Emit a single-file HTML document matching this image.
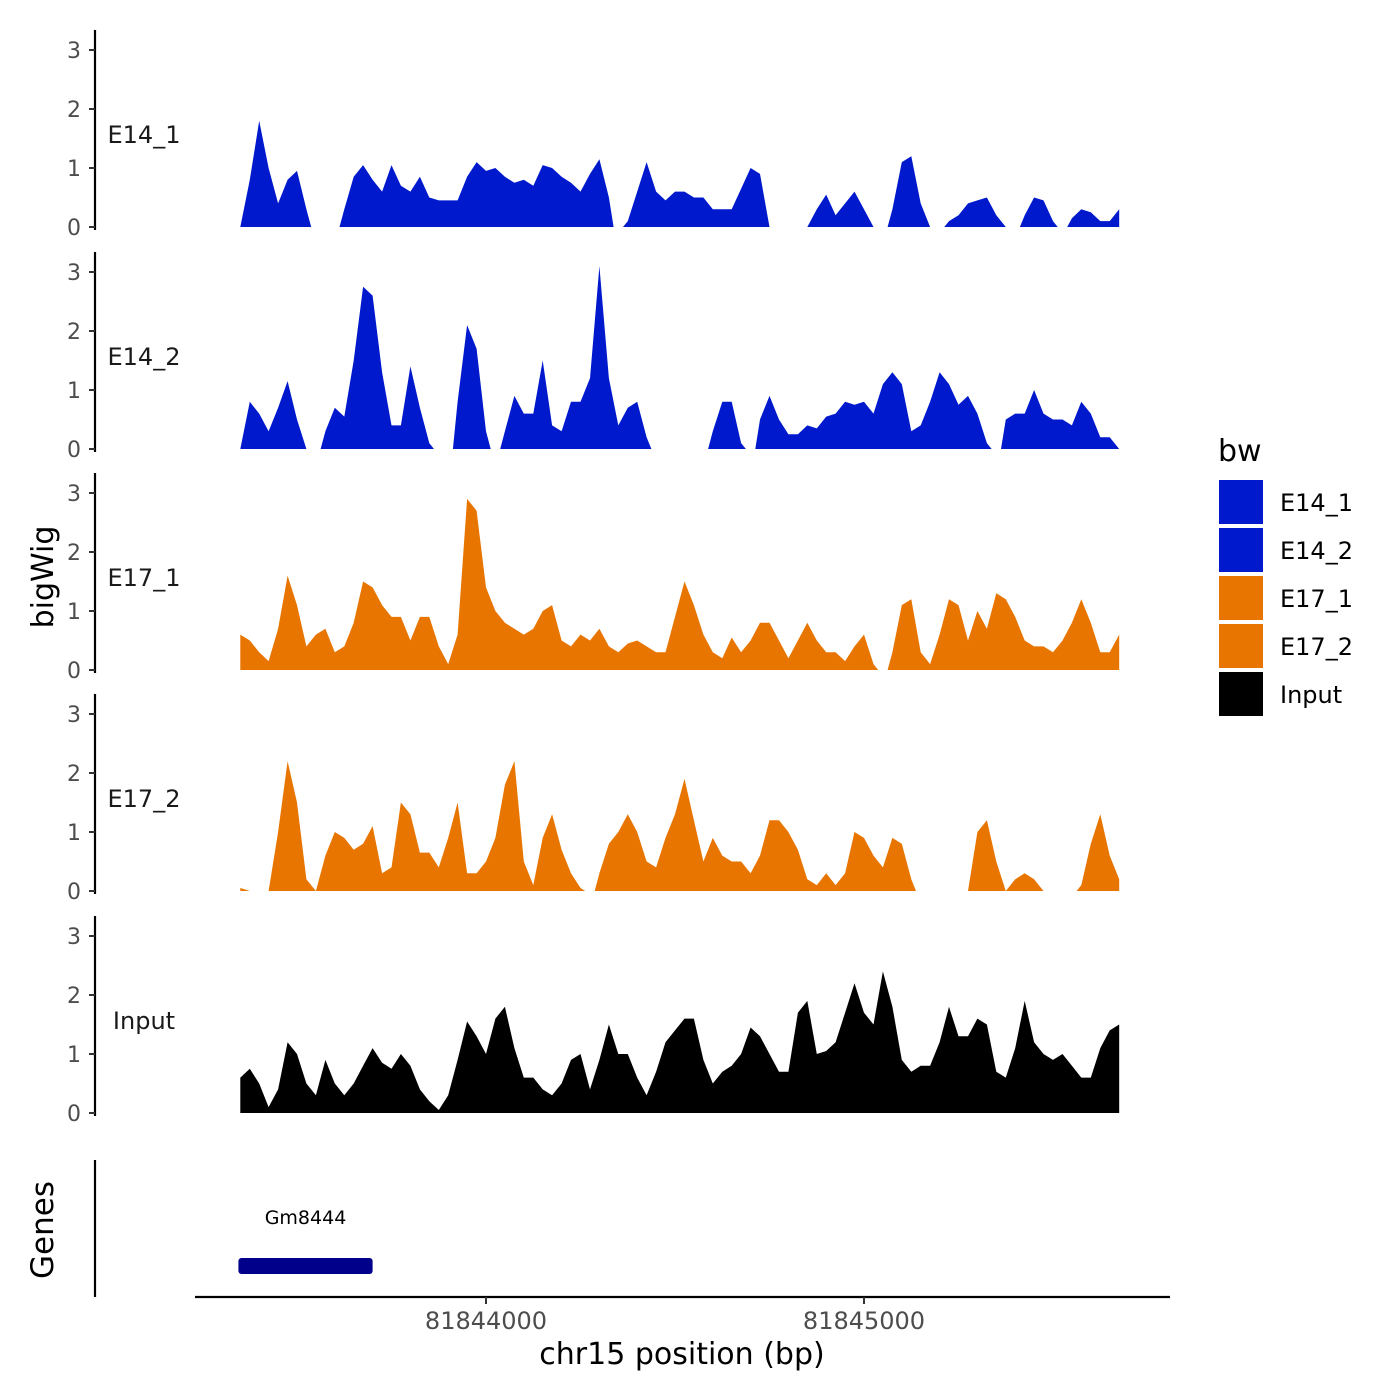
<!DOCTYPE html>
<html><head><meta charset="utf-8"><style>
html,body{margin:0;padding:0;background:#fff;}
svg{display:block;font-family:"DejaVu Sans","Liberation Sans",sans-serif;}
</style></head><body>
<svg id="chart" width="1400" height="1400" viewBox="0 0 1400 1400" xmlns="http://www.w3.org/2000/svg"></svg>
<script>
// ---- data ----
const binStart = 81843350;
const binSize = 25;
const trackNames = ["E14_1","E14_2","E17_1","E17_2","Input"];
const trackColors = ["#0019CD","#0019CD","#E87500","#E87500","#000000"];
const e14_1 = [0,0.8,1.8,1.0,0.4,0.8,0.95,0.3,null,null,
 null,0.3,0.85,1.05,0.8,0.6,1.05,0.7,0.6,0.85,
 0.5,0.45,0.45,0.45,0.85,1.1,0.95,1.0,0.85,0.75,
 0.8,0.7,1.05,1.0,0.85,0.75,0.6,0.9,1.15,0.5,
 null,0.1,0.6,1.1,0.6,0.45,0.6,0.6,0.5,0.5,
 0.3,0.3,0.3,0.65,1.0,0.9,0,null,null,null,
 0,0.3,0.55,0.2,0.4,0.6,0.3,0,null,0.3,
 1.1,1.2,0.4,0,null,0.1,0.2,0.4,0.45,0.5,
 0.2,0,null,0.2,0.5,0.45,0.1,null,0.15,0.3,
 0.25,0.1,0.1,0.3];
const e14_2 = [0,0.8,0.6,0.3,0.7,1.15,0.5,0,null,0.3,
 0.7,0.55,1.5,2.75,2.6,1.3,0.4,0.4,1.4,0.7,
 0.1,null,null,0.8,2.1,1.7,0.3,null,0.3,0.9,
 0.6,0.6,1.5,0.4,0.3,0.8,0.8,1.2,3.1,1.2,
 0.4,0.7,0.8,0.2,null,null,null,null,null,null,
 0.3,0.8,0.8,0.1,null,0.5,0.9,0.5,0.25,0.25,
 0.4,0.35,0.55,0.6,0.8,0.75,0.8,0.6,1.1,1.3,
 1.1,0.3,0.4,0.8,1.3,1.1,0.75,0.9,0.6,0.1,
 null,0.5,0.6,0.6,1.0,0.6,0.5,0.5,0.4,0.8,
 0.6,0.2,0.2,0];
const e17_1 = [0.6,0.5,0.3,0.15,0.7,1.6,1.1,0.4,0.6,0.7,
 0.3,0.4,0.8,1.5,1.4,1.1,0.9,0.9,0.5,0.9,
 0.9,0.4,0.1,0.6,2.9,2.7,1.4,1.0,0.8,0.7,
 0.6,0.7,1.0,1.1,0.5,0.4,0.6,0.5,0.7,0.4,
 0.3,0.45,0.5,0.4,0.3,0.3,0.9,1.5,1.1,0.6,
 0.3,0.2,0.55,0.3,0.5,0.8,0.8,0.5,0.2,0.5,
 0.8,0.5,0.3,0.3,0.15,0.4,0.6,0.1,null,0.3,
 1.1,1.2,0.3,0.1,0.6,1.2,1.1,0.5,1.0,0.7,
 1.3,1.2,0.9,0.5,0.4,0.4,0.3,0.5,0.8,1.2,
 0.8,0.3,0.3,0.6];
const e17_2 = [0.05,0,null,0,1.0,2.2,1.5,0.2,0,0.6,
 1.0,0.9,0.7,0.8,1.1,0.3,0.4,1.5,1.3,0.65,
 0.65,0.4,0.9,1.5,0.3,0.3,0.5,0.9,1.8,2.2,
 0.5,0.1,0.9,1.3,0.7,0.3,0.05,null,0.3,0.8,
 1.0,1.3,1.0,0.5,0.4,0.9,1.3,1.9,1.2,0.5,
 0.9,0.6,0.5,0.5,0.3,0.6,1.2,1.2,1.0,0.7,
 0.2,0.1,0.3,0.1,0.3,1.0,0.9,0.6,0.4,0.9,
 0.8,0.2,null,null,null,null,null,0,1.0,1.2,
 0.5,0,0.2,0.3,0.2,0,null,null,null,0.1,
 0.8,1.3,0.6,0.2];
const input = [0.6,0.75,0.5,0.1,0.4,1.2,1.0,0.5,0.3,0.9,
 0.5,0.3,0.5,0.8,1.1,0.85,0.75,1.0,0.8,0.4,
 0.2,0.05,0.3,0.9,1.55,1.3,1.0,1.6,1.8,1.1,
 0.6,0.6,0.4,0.3,0.5,0.9,1.0,0.4,0.9,1.5,
 1.0,1.0,0.6,0.3,0.7,1.2,1.4,1.6,1.6,0.9,
 0.5,0.7,0.8,1.0,1.45,1.3,1.0,0.7,0.7,1.7,
 1.9,1.0,1.05,1.2,1.7,2.2,1.7,1.5,2.4,1.8,
 0.9,0.7,0.8,0.8,1.2,1.8,1.3,1.3,1.6,1.5,
 0.7,0.6,1.1,1.9,1.2,1.0,0.9,1.0,0.8,0.6,
 0.6,1.1,1.4,1.5];
const yTicks = [0,1,2,3];
const xTicks = [81844000,81845000];
const geneName = "Gm8444";
const geneStart = 81843345;
const geneEnd = 81843700;

// ---- scales ----
const NS="http://www.w3.org/2000/svg";
const svg=document.getElementById('chart');
function xs(bp){return 486+(bp-81844000)*0.378;}
const baseY=[227,449,670,891,1113];
function ys(p,v){return baseY[p]-v*59;}
function mk(tag,attrs,parent){const e=document.createElementNS(NS,tag);for(const k in attrs)e.setAttribute(k,attrs[k]);(parent||svg).appendChild(e);return e;}

const series=[e14_1,e14_2,e17_1,e17_2,input];
series.forEach((vals,p)=>{
  const g=mk('g',{});
  
  
  const ax=mk('line',{x1:95,x2:95,y1:baseY[p]-197,y2:baseY[p]+3,stroke:'#000','stroke-width':2.2},g);
  
  
  yTicks.forEach(t=>{
    const tk=mk('line',{x1:89,x2:95,y1:ys(p,t),y2:ys(p,t),stroke:'#333','stroke-width':2},g);
    
    
    const tl=mk('text',{x:81,y:ys(p,t)+8,'text-anchor':'end','font-size':22,fill:'#4d4d4d'},g);
    tl.textContent=t;
    
    
  });
  const lab=mk('text',{x:144,y:baseY[p]-84,'text-anchor':'middle','font-size':24,fill:'#1a1a1a'},g);
  lab.textContent=trackNames[p];
  
  
  let run=[];
  const flush=(first,last)=>{
    if(!run.length)return;
    const s=run[0][0]-(first?0:binSize*0.5), e=run[run.length-1][0]+(last?0:binSize*0.5);
    let d='M'+xs(s).toFixed(1)+','+baseY[p];
    run.forEach(r=>{d+=' L'+xs(r[0]).toFixed(1)+','+ys(p,r[1]).toFixed(1);});
    d+=' L'+xs(e).toFixed(1)+','+baseY[p]+' Z';
    const a=mk('path',{d:d,fill:trackColors[p]},g);
    
    
    run=[];
  };
  let startIdx=0;
  vals.forEach((v,i)=>{const bp=binStart+i*binSize;if(v===null){flush(startIdx===0,false);startIdx=i+1;}else run.push([bp,v]);});
  flush(startIdx===0,true);
});
</script>
<script>
(function(){
const NS="http://www.w3.org/2000/svg";
const svg=document.getElementById('chart');
function mk(tag,attrs){const e=document.createElementNS(NS,tag);for(const k in attrs)e.setAttribute(k,attrs[k]);svg.appendChild(e);return e;}
function xs(bp){return 486+(bp-81844000)*0.378;}
let e;
e=mk('text',{x:0,y:0,transform:'translate(53,577) rotate(-90)','text-anchor':'middle','font-size':30,fill:'#000'});e.textContent='bigWig';


e=mk('text',{x:0,y:0,transform:'translate(53,1230) rotate(-90)','text-anchor':'middle','font-size':31,fill:'#000'});e.textContent='Genes';


e=mk('line',{x1:95,x2:95,y1:1160,y2:1297,stroke:'#000','stroke-width':2.2});


e=mk('rect',{x:xs(geneStart),y:1258,width:xs(geneEnd)-xs(geneStart),height:16,rx:3,fill:'#00008B'});


e=mk('text',{x:(xs(geneStart)+xs(geneEnd))/2,y:1224,'text-anchor':'middle','font-size':19,fill:'#000'});e.textContent=geneName;


e=mk('line',{x1:195,x2:1170,y1:1297,y2:1297,stroke:'#000','stroke-width':2.2});


xTicks.forEach(t=>{
  let l=mk('line',{x1:xs(t),x2:xs(t),y1:1297,y2:1304,stroke:'#333','stroke-width':2});
  
  
  let tx=mk('text',{x:xs(t),y:1329,'text-anchor':'middle','font-size':24,fill:'#4d4d4d'});tx.textContent=t;
  
  
});
e=mk('text',{x:682,y:1364,'text-anchor':'middle','font-size':30,fill:'#000'});e.textContent='chr15 position (bp)';


e=mk('text',{x:1218,y:461,'font-size':30,fill:'#000'});e.textContent='bw';


const names=["E14_1","E14_2","E17_1","E17_2","Input"];
const cols=["#0019CD","#0019CD","#E87500","#E87500","#000000"];
names.forEach((n,i)=>{
  let r=mk('rect',{x:1219,y:480+i*48,width:44,height:44,fill:cols[i]});
  
  
  let t=mk('text',{x:1280,y:511+i*48,'font-size':24,fill:'#000'});t.textContent=n;
  
  
});
})();
</script>
</body></html>
